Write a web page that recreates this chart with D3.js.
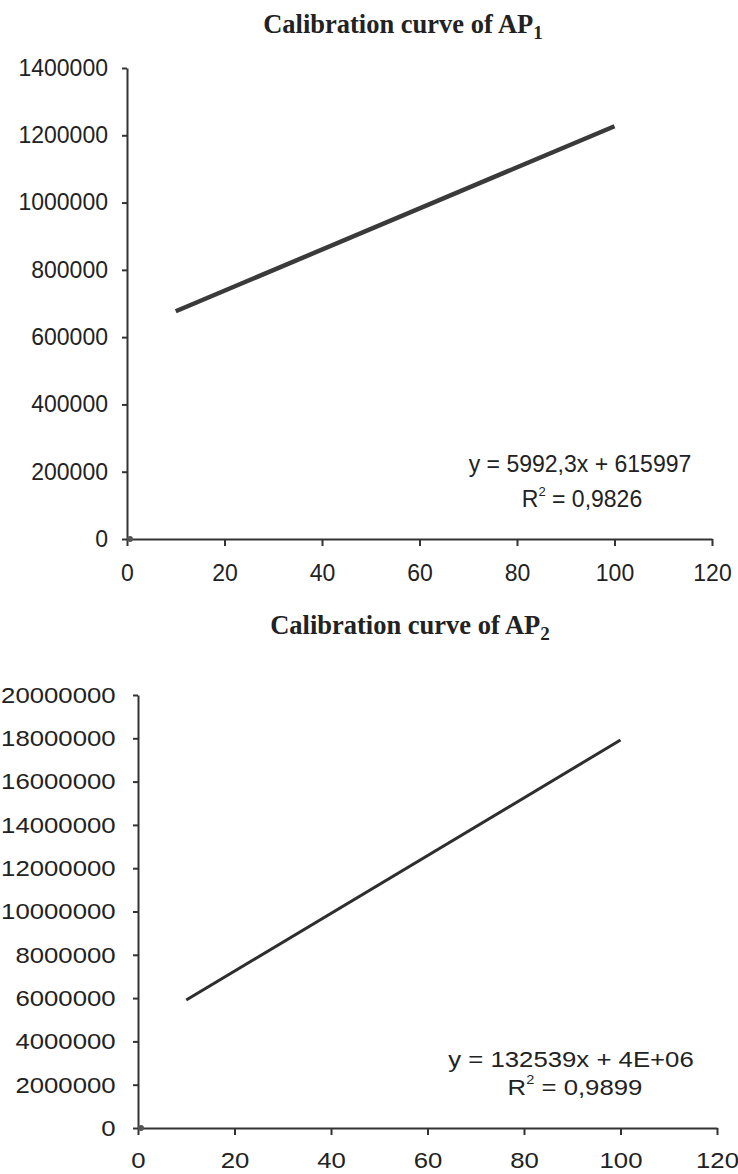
<!DOCTYPE html>
<html>
<head>
<meta charset="utf-8">
<script src="https://cdn.jsdelivr.net/npm/d3@7"></script>
<style>
  body { margin: 0; background: #fff; }
  svg { display: block; }
  .tick text { font-family: "Liberation Sans", Arial, sans-serif; font-size: 23px; fill: #222; }
  .domain, .tick line { stroke: #333; stroke-width: 2px; }
  .title { font-family: "Liberation Serif", "Times New Roman", serif; font-weight: bold; font-size: 26.5px; fill: #222; }
  .eq { font-family: "Liberation Sans", Arial, sans-serif; font-size: 23px; fill: #222; }
</style>
</head>
<body>
<script>
// tick values
const concTicks = [0, 20, 40, 60, 80, 100, 120]
const ap1Ticks = [0, 200000, 400000, 600000, 800000, 1000000, 1200000, 1400000]
const ap2Ticks = [0, 2000000, 4000000, 6000000, 8000000, 10000000, 12000000, 14000000, 16000000, 18000000, 20000000]

// series
const ap1Conc = [10, 100]
const ap1Area = [677000, 1227000]
const ap2Conc = [10, 100]
const ap2Area = [5910000, 17920000]

// point sitting on the origin in both charts
const originConc = [0]
const originArea = [0]

const ap1Equation = "y = 5992,3x + 615997"
const ap1R2 = "0,9826"
const ap2Equation = "y = 132539x + 4E+06"
const ap2R2 = "0,9899"

const width = 738
const height = 1174

const svg = d3.select("body").append("svg")
    .attr("width", width)
    .attr("height", height)

const drawChart = function(opts) {
    const x = d3.scaleLinear().domain([0, 120]).range([opts.left, opts.right])
    const y = d3.scaleLinear().domain([0, opts.yMax]).range([opts.bottom, opts.top])
    const g = svg.append("g")

    g.append("g")
        .attr("transform", "translate(0," + opts.bottom + ")")
        .call(d3.axisBottom(x).tickValues(concTicks).tickSize(7).tickSizeOuter(0).tickPadding(opts.xPad))
    g.append("g")
        .attr("transform", "translate(" + opts.left + ",0)")
        .call(d3.axisLeft(y).tickValues(opts.yTicks).tickFormat(d3.format("d")).tickSize(5).tickSizeOuter(0).tickPadding(opts.yPad))

    if (opts.stretch !== 1) {
        g.selectAll(".tick text").attr("transform", "scale(" + opts.stretch + ",1)")
    }

    const points = opts.conc.map((c, i) => [c, opts.area[i]])
    g.append("path")
        .datum(points)
        .attr("fill", "none")
        .attr("stroke", opts.lineColor)
        .attr("stroke-width", opts.lineWidth)
        .attr("d", d3.line().x(d => x(d[0])).y(d => y(d[1])))

    g.selectAll("circle.origin")
        .data(originConc.map((c, i) => [c, originArea[i]]))
        .enter()
        .append("circle")
        .attr("class", "origin")
        .attr("cx", d => x(d[0]) + 3)
        .attr("cy", d => y(d[1]))
        .attr("r", 3)
        .attr("fill", "#555")

    // title with subscript
    const title = g.append("text")
        .attr("class", "title")
        .attr("x", opts.titleX)
        .attr("y", opts.titleY)
        .attr("text-anchor", "middle")
    title.append("tspan").text("Calibration curve of AP")
    title.append("tspan").attr("dy", 6).attr("font-size", "19px").text(opts.sub)

    const stretchAt = cx => opts.stretch !== 1
        ? "translate(" + cx + ",0) scale(" + opts.stretch + ",1) translate(" + (-cx) + ",0)"
        : null

    g.append("text")
        .attr("class", "eq")
        .attr("x", opts.eqX)
        .attr("y", opts.eqY)
        .attr("text-anchor", "middle")
        .attr("transform", stretchAt(opts.eqX))
        .text(opts.equation)

    const r2 = g.append("text")
        .attr("class", "eq")
        .attr("x", opts.r2X)
        .attr("y", opts.r2Y)
        .attr("text-anchor", "middle")
        .attr("transform", stretchAt(opts.r2X))
    r2.append("tspan").text("R")
    r2.append("tspan").attr("dy", -11).attr("font-size", "13px").text("2")
    r2.append("tspan").attr("dy", 11).text(" = " + opts.r2)
}

drawChart({
    left: 127, right: 712, top: 68, bottom: 539,
    yMax: 1400000, yTicks: ap1Ticks,
    conc: ap1Conc, area: ap1Area,
    lineColor: "#3a3a3a", lineWidth: 4.5,
    xPad: 19, yPad: 14, stretch: 1,
    titleX: 403, titleY: 33, sub: "1",
    equation: ap1Equation, eqX: 580, eqY: 472,
    r2: ap1R2, r2X: 582, r2Y: 507
})

drawChart({
    left: 138, right: 717, top: 695, bottom: 1128,
    yMax: 20000000, yTicks: ap2Ticks,
    conc: ap2Conc, area: ap2Area,
    lineColor: "#2e2e2e", lineWidth: 3,
    xPad: 17, yPad: 15, stretch: 1.12,
    titleX: 410, titleY: 634, sub: "2",
    equation: ap2Equation, eqX: 571, eqY: 1067,
    r2: ap2R2, r2X: 575, r2Y: 1095
})
</script>
</body>
</html>
